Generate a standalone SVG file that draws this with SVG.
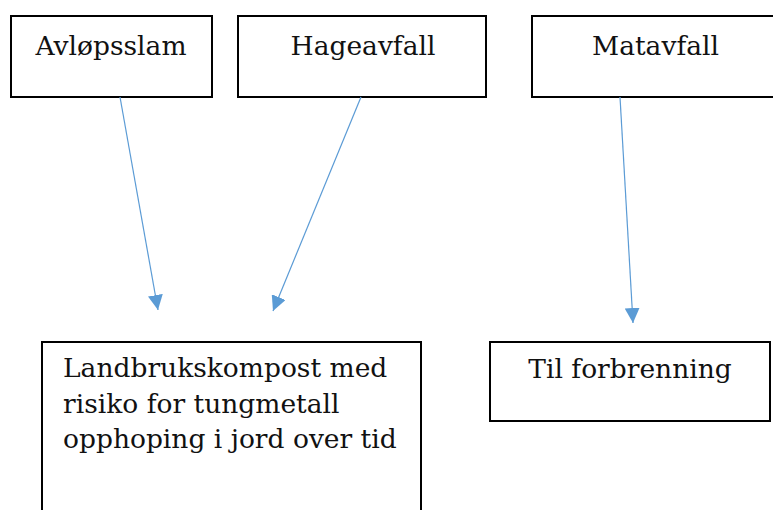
<svg xmlns="http://www.w3.org/2000/svg" width="773" height="510" viewBox="0 0 773 510">
  <style>
    .box { fill: #ffffff; stroke: #000000; stroke-width: 2; }
    .lbl { font-family: "DejaVu Serif", "Liberation Serif", serif; font-size: 26.5px; fill: #111111; }
    .mid { text-anchor: middle; }
    .conn { stroke: #5B9BD5; stroke-width: 1.2; fill: none; marker-end: url(#arrow); }
  </style>
  <defs>
    <marker id="arrow" markerUnits="userSpaceOnUse" markerWidth="15" markerHeight="15" refX="15" refY="7.5" orient="auto">
      <path d="M0,0 L15,7.5 L0,15 z" fill="#5B9BD5"/>
    </marker>
  </defs>
  <rect width="773" height="510" fill="#ffffff"/>
  <g id="node-avlopsslam">
    <rect class="box" x="11" y="16" width="201" height="81"/>
    <text class="lbl mid" x="111" y="55">Avløpsslam</text>
  </g>
  <g id="node-hageavfall">
    <rect class="box" x="238" y="16" width="248" height="81"/>
    <text class="lbl mid" x="363" y="55">Hageavfall</text>
  </g>
  <g id="node-matavfall">
    <rect class="box" x="532" y="16" width="248" height="81"/>
    <text class="lbl mid" x="655.5" y="55">Matavfall</text>
  </g>
  <g id="node-landbrukskompost">
    <rect class="box" x="42" y="342" width="379" height="180"/>
    <text class="lbl" x="63" y="377">Landbrukskompost med</text>
    <text class="lbl" x="63" y="412.5">risiko for tungmetall</text>
    <text class="lbl" x="63" y="448">opphoping i jord over tid</text>
  </g>
  <g id="node-forbrenning">
    <rect class="box" x="490" y="342" width="280" height="79"/>
    <text class="lbl mid" x="630" y="378">Til forbrenning</text>
  </g>
  <g id="connectors">
    <line class="conn" x1="120" y1="97" x2="158" y2="310"/>
    <line class="conn" x1="361" y1="97" x2="273" y2="311"/>
    <line class="conn" x1="620" y1="97" x2="633" y2="323"/>
  </g>
</svg>
